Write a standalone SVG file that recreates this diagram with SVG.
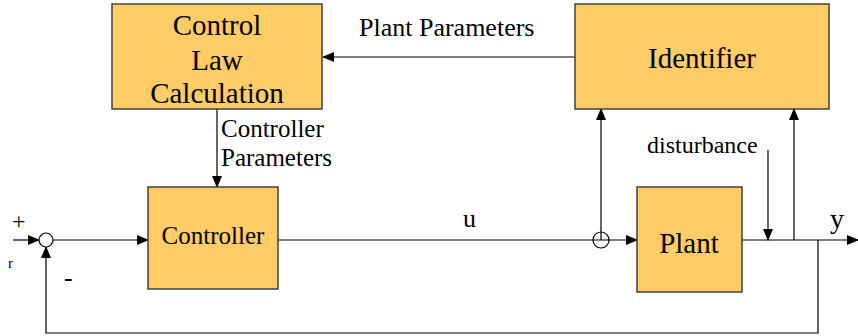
<svg xmlns="http://www.w3.org/2000/svg" width="858" height="336" viewBox="0 0 858 336">
<defs>
<marker id="ah" markerWidth="12" markerHeight="10" refX="11" refY="5" orient="auto" markerUnits="userSpaceOnUse">
<path d="M0,0 L12,5 L0,10 Z" fill="#000"/>
</marker>
</defs>
<style>
.box{fill:#FFCC66;stroke:#404040;stroke-width:1.5}
.ln{fill:none;stroke:#000;stroke-width:1.2}
text{font-family:'Liberation Serif','Times New Roman','DejaVu Serif',serif;fill:#000}
.big{font-size:29px;text-anchor:middle}
.med{font-size:26px}
</style>
<rect width="858" height="336" fill="#fff"/>
<g id="connectors">
<line class="ln" x1="575" y1="57" x2="323" y2="57" marker-end="url(#ah)"/>
<line class="ln" x1="217" y1="109" x2="217" y2="187" marker-end="url(#ah)"/>
<line class="ln" x1="13" y1="240" x2="39" y2="240" marker-end="url(#ah)"/>
<line class="ln" x1="53" y1="240" x2="148" y2="240" marker-end="url(#ah)"/>
<line class="ln" x1="278" y1="240" x2="637" y2="240" marker-end="url(#ah)"/>
<line class="ln" x1="601" y1="240" x2="601" y2="109" marker-end="url(#ah)"/>
<line class="ln" x1="742" y1="240" x2="858" y2="240" marker-end="url(#ah)"/>
<line class="ln" x1="768" y1="150" x2="768" y2="240" marker-end="url(#ah)"/>
<line class="ln" x1="794" y1="240" x2="794" y2="109" marker-end="url(#ah)"/>
<polyline class="ln" points="818,240 818,333 46,333 46,247" marker-end="url(#ah)"/>
</g>
<g id="sum1"><circle cx="46" cy="240" r="7" fill="#fff" stroke="#000" stroke-width="1.2"/></g>
<g id="sum2"><circle cx="601" cy="240" r="8" fill="none" stroke="#000" stroke-width="1.2"/></g>
<g id="control-law">
<rect class="box" x="112" y="4" width="210" height="105"/>
<text class="big" x="217" y="35">Control</text>
<text class="big" x="217" y="70">Law</text>
<text class="big" x="217" y="103">Calculation</text>
</g>
<g id="identifier">
<rect class="box" x="575" y="4" width="254" height="105"/>
<text class="big" x="702" y="68">Identifier</text>
</g>
<g id="controller">
<rect class="box" x="148" y="187" width="130" height="102"/>
<text x="213" y="244" font-size="25" text-anchor="middle">Controller</text>
</g>
<g id="plant">
<rect class="box" x="637" y="187" width="105" height="105"/>
<text class="big" x="689" y="253">Plant</text>
</g>
<g id="labels">
<text class="med" x="359" y="36">Plant Parameters</text>
<text x="221" y="137" font-size="25">Controller</text>
<text x="221" y="166" font-size="25">Parameters</text>
<text x="647" y="153" font-size="24">disturbance</text>
<text x="463" y="227" font-size="26">u</text>
<text x="830" y="228" font-size="28">y</text>
<text x="12" y="229" font-size="24">+</text>
<text x="8" y="268" font-size="15">r</text>
<text x="64" y="286" font-size="26">-</text>
</g>
</svg>
